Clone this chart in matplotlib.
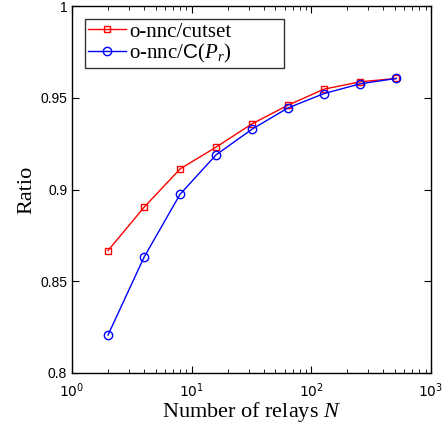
import matplotlib
matplotlib.use("Agg")
import matplotlib.pyplot as plt
from matplotlib.ticker import LogLocator, FixedLocator, NullFormatter

relays = [2, 4, 8, 16, 32, 64, 128, 256, 512]
ratio_cutset = [0.8667, 0.8903, 0.9112, 0.9231, 0.9358, 0.9460, 0.9547, 0.9587, 0.9605]
ratio_cpr = [0.8207, 0.8631, 0.8974, 0.9189, 0.9329, 0.9445, 0.9523, 0.9576, 0.9605]
yticks = [0.8, 0.85, 0.9, 0.95, 1.0]
yticklabels = ["0.8", "0.85", "0.9", "0.95", "1"]

plt.rcParams['mathtext.fontset'] = 'custom'
plt.rcParams['mathtext.rm'] = 'Liberation Serif'
plt.rcParams['mathtext.it'] = 'Liberation Serif:italic'
plt.rcParams['mathtext.sf'] = 'Liberation Sans'

fig = plt.figure(figsize=(4.45, 4.26), dpi=100)
ax = fig.add_axes([72/445, 53/426, 359/445, 367/426])

ax.plot(relays, ratio_cutset, color='red', marker='s', markersize=5, markerfacecolor='none',
        markeredgecolor='red', linewidth=1.0, label='o-nnc/cutset')
ax.plot(relays, ratio_cpr, color='blue', marker='o', markersize=6, markerfacecolor='none',
        markeredgecolor='blue', linewidth=1.0, label=r'o-nnc/$\mathsf{C}(P_r)$')

ax.set_xscale('log')
ax.set_xlim(1, 1000)
ax.set_ylim(0.8, 1.0)
ax.yaxis.set_major_locator(FixedLocator(yticks))
ax.set_yticklabels(yticklabels, fontfamily='Liberation Sans', fontsize=10)
ax.xaxis.set_major_locator(LogLocator(base=10, numticks=10))
ax.xaxis.set_minor_locator(LogLocator(base=10, subs=range(2, 10), numticks=10))
ax.xaxis.set_minor_formatter(NullFormatter())
ax.tick_params(axis='both', which='both', direction='in', top=True, right=True, labelsize=10)
ax.tick_params(axis='x', which='major', pad=6)
ax.tick_params(which='major', length=5)
ax.tick_params(which='minor', length=3)
for s in ax.spines.values():
    s.set_linewidth(1.0)

ax.set_xlabel(r'Number of relays $N$', fontfamily='Liberation Serif', fontsize=16, labelpad=0)
ax.set_ylabel('Ratio', fontfamily='Liberation Serif', fontsize=16, labelpad=3)

x0 = (85 - 72) / 359
w = (284 - 85) / 359
y1 = (373 - 19) / 367
h = 50 / 367
leg = ax.legend(loc='upper left', bbox_to_anchor=(x0, y1 - h, w, h), mode='expand',
                prop={'family': 'Liberation Serif', 'size': 15},
                frameon=True, fancybox=False, edgecolor='black', borderaxespad=0.0,
                handlelength=1.8, labelspacing=0.0, borderpad=0.15, handletextpad=0.15)
leg.get_frame().set_linewidth(1.0)

fig.savefig('out.png', dpi=100)
